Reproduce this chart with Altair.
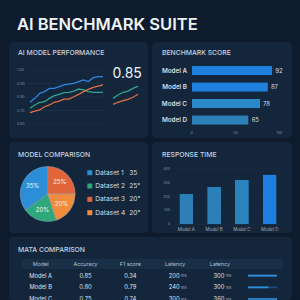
import altair as alt
import pandas as pd

BG = "#0d1b2d"
CARD = "#13263c"
FONT = "Inter"
TXT = "#d5dee8"
DIM = "#7f8fa3"

# ---------------- data ----------------
title_main = "AI BENCHMARK SUITE"

perf_title = "AI MODEL PERFORMANCE"
perf_steps = list(range(16))
perf_blue = [0.761, 0.790, 0.827, 0.840, 0.864, 0.864, 0.877, 0.889, 0.896, 0.901, 0.914, 0.926, 0.914, 0.943, 0.951, 0.951]
perf_green = [0.716, 0.741, 0.761, 0.765, 0.790, 0.810, 0.820, 0.832, 0.835, 0.844, 0.859, 0.852, 0.840, 0.835, 0.835, 0.835]
perf_orange = [0.684, 0.696, 0.704, 0.728, 0.741, 0.761, 0.770, 0.785, 0.785, 0.802, 0.820, 0.840, 0.857, 0.872, 0.881, 0.889]
perf_series = ["Series 1", "Series 2", "Series 3"]
perf_ticks = [1.0, 0.9, 0.8, 0.7, 0.6]
perf_tick_labels = ["1.00", "0.90", "0.80", "0.70", "0.60"]
spark_steps = [0, 1, 2, 3, 4, 5]
spark_green = [0.790, 0.815, 0.835, 0.844, 0.864, 0.881]
spark_orange = [0.746, 0.761, 0.773, 0.783, 0.798, 0.820]
perf_headline = "0.85"

bench_title = "BENCHMARK SCORE"
bench_models = ["Model A", "Model B", "Model C", "Model D"]
bench_scores = [92, 87, 78, 65]
bench_ticks = [0, 50, 100]

pie_title = "MODEL COMPARISON"
pie_labels = ["Dataset 1", "Dataset 2", "Dataset 3", "Dataset 4"]
pie_shares = [35, 20, 25, 20]
pie_slice_text = ["35%", "20%", "25%", "20%"]
pie_order = [4, 3, 1, 2]
legend_values = ["35", "25°", "20°", "20°"]

resp_title = "RESPONSE TIME"
resp_models = ["Model A", "Model B", "Model C", "Model D"]
resp_ms = [220, 270, 320, 360]
resp_ticks = [0, 100, 200, 300, 400]

table_title = "MATA COMPARISON"
table_headers = ["Model", "Accuracy", "F1 score", "Latency", "Latency"]
table_models = ["Model A", "Model B", "Model C"]
table_accuracy = ["0.85", "0.80", "0.75"]
table_f1 = ["0.34", "0.79", "0.74"]
table_latency1 = ["200", "240", "300"]
table_latency2 = ["300", "300", "360"]
table_bar = [100, 70, 100]

# ---------------- helpers ----------------
def card_view():
    return alt.ViewBackground(fill=CARD, stroke="transparent", cornerRadius=4)


def card_title(text, x, y):
    return alt.Chart(pd.DataFrame({"t": [text]})).mark_text(
        align="left", baseline="alphabetic", font=FONT, fontSize=6.8,
        fontWeight=500, color="#c9d4e0"
    ).encode(x=alt.value(x), y=alt.value(y), text="t:N")


# ---------------- row 0: title ----------------
row0 = alt.Chart(pd.DataFrame({"t": [title_main]})).mark_text(
    align="left", baseline="alphabetic", font=FONT, fontSize=16.5,
    fontWeight=600, color="#eef3f8"
).encode(x=alt.value(8), y=alt.value(30), text="t:N").properties(
    width=283, height=38,
    view=alt.ViewBackground(fill="transparent", stroke="transparent"))

# ---------------- card 1: line chart ----------------
perf_df = pd.DataFrame({
    "step": perf_steps * 3,
    "score": perf_blue + perf_green + perf_orange,
    "series": [perf_series[0]] * 16 + [perf_series[1]] * 16 + [perf_series[2]] * 16,
})
spark_df = pd.DataFrame({
    "step": spark_steps * 2,
    "score": spark_green + spark_orange,
    "series": [perf_series[1]] * 6 + [perf_series[2]] * 6,
})
perf_tick_df = pd.DataFrame({"v": perf_ticks, "label": perf_tick_labels})
ysc = alt.Scale(domain=[0.6, 1.0], range=[82, 28], nice=False, zero=False)
col_sc = alt.Scale(domain=perf_series, range=["#2f86e0", "#2fa88a", "#e0703f"])

grid1 = alt.Chart(perf_tick_df).mark_rule(color="#22364d", strokeWidth=0.5).encode(
    y=alt.Y("v:Q", scale=ysc, axis=None), x=alt.value(19), x2=alt.value(95))
glab1 = alt.Chart(perf_tick_df).mark_text(
    align="left", baseline="middle", font=FONT, fontSize=3.6, color=DIM
).encode(y=alt.Y("v:Q", scale=ysc, axis=None), x=alt.value(8), text="label:N")
lines1 = alt.Chart(perf_df).mark_line(strokeWidth=1.3).encode(
    x=alt.X("step:Q", scale=alt.Scale(domain=[0, 15], range=[21, 94], nice=False, zero=False), axis=None),
    y=alt.Y("score:Q", scale=ysc, axis=None),
    color=alt.Color("series:N", scale=col_sc, legend=None))
spark1 = alt.Chart(spark_df).mark_line(strokeWidth=1.3).encode(
    x=alt.X("step:Q", scale=alt.Scale(domain=[0, 5], range=[104, 129], nice=False, zero=False), axis=None),
    y=alt.Y("score:Q", scale=ysc, axis=None),
    color=alt.Color("series:N", scale=col_sc, legend=None))
head1 = alt.Chart(pd.DataFrame({"t": [perf_headline]})).mark_text(
    align="left", baseline="alphabetic", font=FONT, fontSize=14, fontWeight=400, color="#eef3f8"
).encode(x=alt.value(103.5), y=alt.value(36), text="t:N")

card1 = alt.layer(grid1, glab1, lines1, spark1, head1, card_title(perf_title, 9, 13)).resolve_scale(
    x="independent").properties(width=139, height=96, view=card_view())

# ---------------- card 2: horizontal bars ----------------
bench_df = pd.DataFrame({"bmodel": bench_models, "score": bench_scores})
bx = alt.Scale(domain=[0, 100], range=[39.7, 127.3], nice=False)
by = alt.Scale(domain=bench_models, range=[20.25, 86.25], paddingInner=0.42, paddingOuter=0.21)
bars2 = alt.Chart(bench_df).mark_bar(cornerRadius=0.5).encode(
    x=alt.X("score:Q", scale=bx, axis=None),
    y=alt.Y("bmodel:N", scale=by, axis=None),
    color=alt.Color("bmodel:N", scale=alt.Scale(domain=bench_models,
                    range=["#1f80dd", "#1f80dd", "#2a89c9", "#2d80b5"]), legend=None))
vals2 = alt.Chart(bench_df).mark_text(
    align="left", baseline="middle", dx=3, font=FONT, fontSize=6, color=TXT
).encode(x=alt.X("score:Q", scale=bx, axis=None), y=alt.Y("bmodel:N", scale=by, axis=None),
         text="score:Q")
names2 = alt.Chart(bench_df).mark_text(
    align="right", baseline="middle", font=FONT, fontSize=6.3, fontWeight=600, color=TXT
).encode(x=alt.value(35), y=alt.Y("bmodel:N", scale=by, axis=None), text="bmodel:N")
ticks2 = alt.Chart(pd.DataFrame({"v": bench_ticks})).mark_text(
    align="center", baseline="middle", font=FONT, fontSize=3.6, color=DIM
).encode(x=alt.X("v:Q", scale=bx, axis=None), y=alt.value(91), text="v:Q")

card2 = alt.layer(bars2, vals2, names2, ticks2, card_title(bench_title, 10, 13)).properties(
    width=140, height=96, view=card_view())

# ---------------- card 3: pie ----------------
pie_df = pd.DataFrame({"dataset": pie_labels, "share": pie_shares, "label": pie_slice_text,
                       "order": pie_order, "value": legend_values})
pie_col = alt.Scale(domain=pie_labels, range=["#2c8ed6", "#2ea77b", "#e0653b", "#f08c3b"])
arc3 = alt.Chart(pie_df).mark_arc(outerRadius=27.5, stroke="#8fa3ba", strokeWidth=0.5).encode(
    theta=alt.Theta("share:Q", stack=True),
    order=alt.Order("order:Q"),
    color=alt.Color("dataset:N", scale=pie_col, legend=None),
    x=alt.value(38.7), y=alt.value(52))
ptxt3 = alt.Chart(pie_df).mark_text(radius=17, font=FONT, fontSize=6, color="#f2f6fa").encode(
    theta=alt.Theta("share:Q", stack=True),
    order=alt.Order("order:Q"),
    text="label:N",
    x=alt.value(38.7), y=alt.value(52))
ly = alt.Scale(type="point", domain=pie_labels, range=[30.7, 70.7], padding=0)
lsq3 = alt.Chart(pie_df).mark_square(size=25, opacity=1).encode(
    x=alt.value(80.8), y=alt.Y("dataset:N", scale=ly, axis=None),
    color=alt.Color("dataset:N", scale=pie_col, legend=None))
llab3 = alt.Chart(pie_df).mark_text(align="left", baseline="middle", font=FONT, fontSize=6.6, color=TXT).encode(
    x=alt.value(86.3), y=alt.Y("dataset:N", scale=ly, axis=None), text="dataset:N")
lval3 = alt.Chart(pie_df).mark_text(align="left", baseline="middle", font=FONT, fontSize=6.6, color=TXT).encode(
    x=alt.value(120.3), y=alt.Y("dataset:N", scale=ly, axis=None), text="value:N")

card3 = alt.layer(arc3, ptxt3, lsq3, llab3, lval3, card_title(pie_title, 9, 15)).properties(
    width=139, height=91, view=card_view())

# ---------------- card 4: vertical bars ----------------
resp_df = pd.DataFrame({"rmodel": resp_models, "ms": resp_ms})
rx = alt.Scale(domain=resp_models, range=[20.4, 131.6], paddingInner=0.5, paddingOuter=0.25)
ry = alt.Scale(domain=[0, 400], range=[82.3, 27], nice=False)
rt_df = pd.DataFrame({"v": resp_ticks})
grid4 = alt.Chart(rt_df).mark_rule(color="#1d3148", strokeWidth=0.5).encode(
    y=alt.Y("v:Q", scale=ry, axis=None), x=alt.value(22), x2=alt.value(135))
glab4 = alt.Chart(rt_df).mark_text(align="right", baseline="middle", font=FONT, fontSize=3.6, color=DIM).encode(
    y=alt.Y("v:Q", scale=ry, axis=None), x=alt.value(18), text="v:Q")
bars4 = alt.Chart(resp_df).mark_bar(cornerRadiusTopLeft=0.5, cornerRadiusTopRight=0.5).encode(
    x=alt.X("rmodel:N", scale=rx, axis=None),
    y=alt.Y("ms:Q", scale=ry, axis=None),
    color=alt.Color("rmodel:N", scale=alt.Scale(domain=resp_models,
                    range=["#2b7fb6", "#2b80b8", "#2b82bc", "#1f7fe0"]), legend=None))
xlab4 = alt.Chart(resp_df).mark_text(align="center", baseline="middle", font=FONT, fontSize=4.4, color="#a0adbd").encode(
    x=alt.X("rmodel:N", scale=rx, axis=None), y=alt.value(88), text="rmodel:N")

card4 = alt.layer(grid4, glab4, bars4, xlab4, card_title(resp_title, 10, 15)).properties(
    width=140, height=91, view=card_view())

# ---------------- card 5: table ----------------
col_keys = ["c1", "c2", "c3", "c4", "c5"]
row_keys = ["header"] + table_models
tx = alt.Scale(type="point", domain=col_keys, range=[31.7, 210.9], padding=0)
ty = alt.Scale(type="point", domain=row_keys, range=[27, 62], padding=0)

head_df = pd.DataFrame({"col": col_keys, "row": ["header"] * 5, "text": table_headers})
plain_rows, plain_cols, plain_txt = [], [], []
for i, m in enumerate(table_models):
    for c, v in zip(col_keys[:3], [m, table_accuracy[i], table_f1[i]]):
        plain_rows.append(m); plain_cols.append(c); plain_txt.append(v)
cell_df = pd.DataFrame({"col": plain_cols, "row": plain_rows, "text": plain_txt})
lat_df = pd.DataFrame({
    "col": ["c4"] * 3 + ["c5"] * 3,
    "row": table_models * 2,
    "text": table_latency1 + table_latency2,
    "unit": ["ms"] * 6,
})
bar_df = pd.DataFrame({"row": table_models, "v": table_bar, "full": [100] * 3})

band5 = alt.Chart(pd.DataFrame({"k": [0]})).mark_rect(color="#182f47").encode(
    x=alt.value(13), x2=alt.value(274), y=alt.value(22), y2=alt.value(32))
head5 = alt.Chart(head_df).mark_text(baseline="middle", font=FONT, fontSize=5.4, color="#b5c2d2", clip=True).encode(
    x=alt.X("col:N", scale=tx, axis=None), y=alt.Y("row:N", scale=ty, axis=None), text="text:N")
cells5 = alt.Chart(cell_df).mark_text(baseline="middle", font=FONT, fontSize=5.8, color="#dce4ee", clip=True).encode(
    x=alt.X("col:N", scale=tx, axis=None), y=alt.Y("row:N", scale=ty, axis=None), text="text:N")
lat5 = alt.Chart(lat_df).mark_text(align="right", baseline="middle", dx=4.5, font=FONT, fontSize=5.8,
                                   color="#dce4ee", clip=True).encode(
    x=alt.X("col:N", scale=tx, axis=None), y=alt.Y("row:N", scale=ty, axis=None), text="text:N")
unit5 = alt.Chart(lat_df).mark_text(align="left", baseline="middle", dx=6, dy=0.5, font=FONT, fontSize=3.8,
                                    color="#aebbcb", clip=True).encode(
    x=alt.X("col:N", scale=tx, axis=None), y=alt.Y("row:N", scale=ty, axis=None), text="unit:N")
bsc = alt.Scale(domain=[0, 100], range=[239, 268], nice=False)
track5 = alt.Chart(bar_df).mark_bar(height=1.6, color="#1d4a78", clip=True).encode(
    x=alt.X("full:Q", scale=bsc, axis=None), y=alt.Y("row:N", scale=ty, axis=None))
fill5 = alt.Chart(bar_df).mark_bar(height=1.6, color="#2f8fdc", clip=True).encode(
    x=alt.X("v:Q", scale=bsc, axis=None), y=alt.Y("row:N", scale=ty, axis=None))

card5 = alt.layer(band5, head5, cells5, lat5, unit5, track5, fill5, card_title(table_title, 9, 15)).resolve_scale(
    x="independent").properties(width=283, height=63, view=card_view())

# ---------------- assemble ----------------
row1 = alt.hconcat(card1, card2, spacing=4).resolve_scale(color="independent", x="independent", y="independent")
row2 = alt.hconcat(card3, card4, spacing=4).resolve_scale(color="independent", x="independent", y="independent")
chart = alt.vconcat(row0, row1, row2, card5, spacing=4).resolve_scale(
    color="independent", x="independent", y="independent").properties(
    padding={"left": 9, "top": 0, "right": 8, "bottom": 0},
    background=BG,
).configure_view(strokeWidth=0)

chart.save("out.html", embed_options={"renderer": "svg", "actions": False})
